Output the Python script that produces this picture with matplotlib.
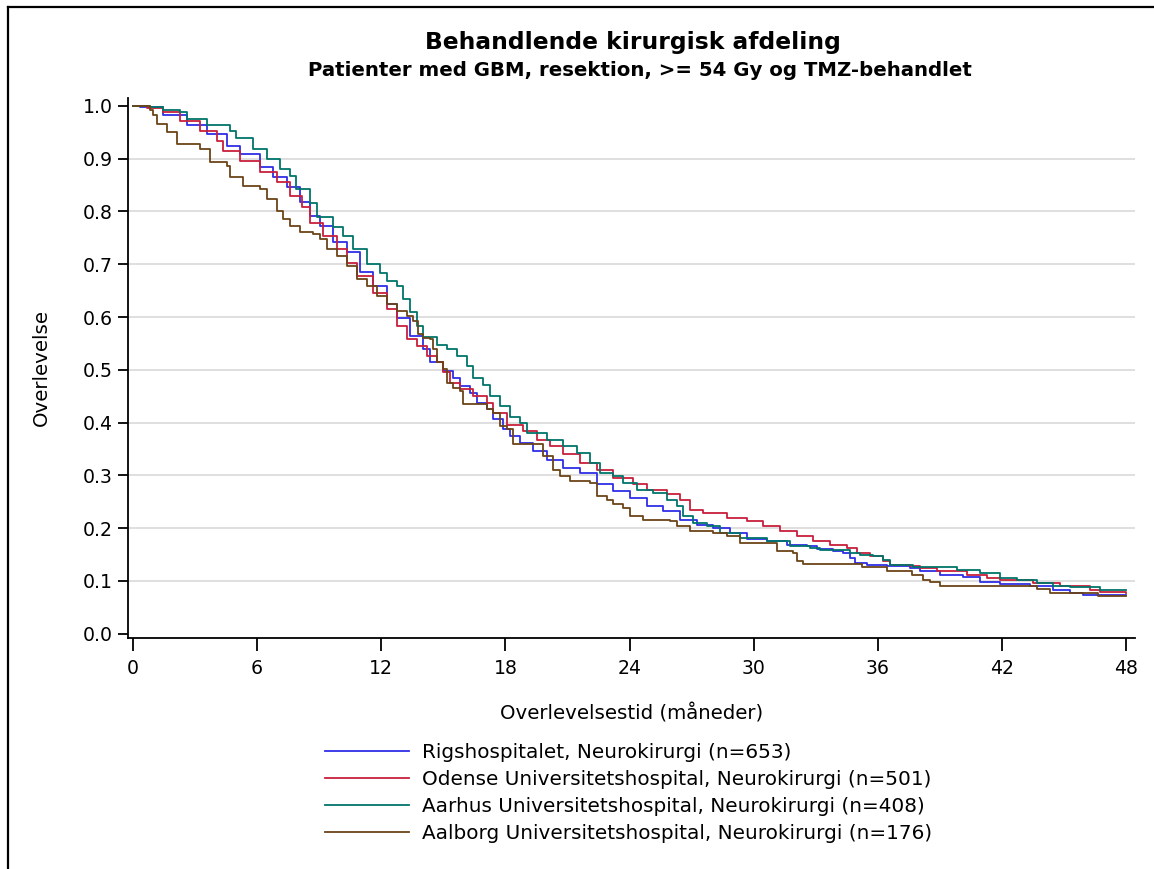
import matplotlib
matplotlib.use("Agg")
import matplotlib.pyplot as plt
from matplotlib.lines import Line2D

plt.rcParams['font.family'] = ['DejaVu Sans']

# Kaplan-Meier estimates (months, survival) per department
rigs_t = [0, 0.34, 1.45, 2.6, 3.56, 4.53, 5.17, 6.14, 6.77, 7.43, 8.07, 8.55, 9.04, 9.67,
          10.33, 10.97, 11.6, 12.26, 12.74, 13.39, 14.03, 14.35, 15.0, 15.48, 15.8, 16.29,
          16.61, 17.1, 17.41, 17.9, 18.22, 18.7, 19.35, 20.0, 20.8, 21.6, 22.41, 23.21,
          24.02, 24.83, 25.63, 26.44, 27.25, 28.05, 28.85, 29.66, 30.63, 31.59, 32.56,
          33.04, 33.85, 34.33, 34.66, 34.9, 35.46, 36.42, 37.55, 38.04, 39.0, 40.13, 40.94,
          41.9, 43.35, 44.48, 45.29, 45.93, 46.58, 48]
rigs_s = [1.0, 0.998, 0.982, 0.963, 0.947, 0.925, 0.909, 0.884, 0.865, 0.846, 0.818, 0.792,
          0.773, 0.742, 0.723, 0.685, 0.659, 0.625, 0.598, 0.564, 0.539, 0.514, 0.498,
          0.485, 0.469, 0.457, 0.438, 0.425, 0.406, 0.387, 0.374, 0.362, 0.346, 0.33,
          0.314, 0.305, 0.283, 0.27, 0.257, 0.242, 0.232, 0.216, 0.207, 0.2, 0.191, 0.18,
          0.175, 0.169, 0.166, 0.161, 0.156, 0.153, 0.144, 0.134, 0.131, 0.129, 0.125,
          0.118, 0.112, 0.108, 0.099, 0.095, 0.091, 0.083, 0.077, 0.074, 0.073, 0.073]

odense_t = [0, 0.66, 1.47, 2.27, 3.24, 4.05, 4.37, 5.17, 6.14, 6.95, 7.59, 8.15, 8.55, 9.2,
            9.85, 10.33, 10.81, 11.62, 12.26, 12.74, 13.23, 13.71, 14.19, 14.68, 15.0,
            15.32, 15.8, 16.45, 17.1, 17.41, 18.06, 18.87, 19.51, 20.15, 20.8, 21.6, 22.41,
            23.21, 24.18, 24.83, 25.79, 26.44, 26.92, 27.56, 28.69, 29.66, 30.46, 31.27,
            32.08, 32.88, 33.69, 34.49, 34.98, 35.62, 36.26, 36.59, 37.55, 38.04, 38.84,
            40.29, 41.26, 41.9, 43.51, 44.8, 46.25, 46.74, 48]
odense_s = [1.0, 0.996, 0.988, 0.972, 0.953, 0.934, 0.915, 0.896, 0.874, 0.855, 0.83, 0.808,
            0.779, 0.754, 0.729, 0.703, 0.678, 0.646, 0.615, 0.583, 0.558, 0.545, 0.526,
            0.514, 0.495, 0.476, 0.463, 0.45, 0.438, 0.419, 0.395, 0.384, 0.368, 0.355,
            0.34, 0.324, 0.311, 0.295, 0.283, 0.273, 0.264, 0.254, 0.235, 0.229, 0.219,
            0.213, 0.204, 0.194, 0.185, 0.175, 0.169, 0.163, 0.153, 0.147, 0.137, 0.131,
            0.128, 0.125, 0.118, 0.112, 0.106, 0.101, 0.096, 0.09, 0.083, 0.079, 0.077]

aarhus_t = [0, 0.82, 1.45, 2.27, 2.6, 3.56, 4.69, 5.0, 5.8, 6.46, 7.1, 7.59, 7.9, 8.55,
            8.88, 9.67, 10.15, 10.64, 11.3, 11.94, 12.26, 12.74, 13.06, 13.39, 13.71,
            14.03, 14.68, 15.16, 15.64, 16.13, 16.45, 16.93, 17.25, 17.74, 18.22, 18.7,
            19.03, 20.0, 20.8, 21.44, 22.09, 22.57, 23.21, 23.7, 24.34, 25.15, 25.79,
            26.28, 26.6, 27.08, 27.73, 28.37, 29.34, 30.63, 31.75, 32.72, 33.2, 34.01,
            34.66, 35.14, 35.78, 36.26, 36.59, 37.7, 39.81, 40.94, 41.9, 42.71, 43.68,
            44.48, 45.29, 46.74, 48]
aarhus_s = [1.0, 0.998, 0.993, 0.989, 0.975, 0.964, 0.953, 0.939, 0.918, 0.899, 0.88, 0.867,
            0.843, 0.817, 0.789, 0.77, 0.754, 0.728, 0.7, 0.684, 0.668, 0.659, 0.634,
            0.609, 0.583, 0.563, 0.548, 0.539, 0.526, 0.507, 0.485, 0.472, 0.45, 0.431,
            0.41, 0.4, 0.381, 0.368, 0.355, 0.343, 0.324, 0.305, 0.298, 0.286, 0.273,
            0.267, 0.254, 0.242, 0.223, 0.21, 0.204, 0.191, 0.182, 0.175, 0.166, 0.163,
            0.159, 0.158, 0.153, 0.15, 0.147, 0.14, 0.131, 0.126, 0.121, 0.115, 0.106,
            0.101, 0.096, 0.091, 0.088, 0.083, 0.082]

aalborg_t = [0, 0.82, 0.98, 1.14, 1.63, 2.11, 3.24, 3.72, 4.53, 4.69, 5.33, 6.14, 6.46,
             6.95, 7.27, 7.59, 8.07, 8.71, 9.04, 9.36, 9.85, 10.33, 10.81, 11.3, 11.78,
             12.26, 12.74, 13.23, 13.55, 13.79, 14.03, 14.35, 14.52, 14.68, 15.0, 15.16,
             15.48, 15.8, 15.96, 16.61, 17.1, 17.41, 17.74, 18.06, 18.38, 19.83, 20.31,
             20.64, 21.12, 22.09, 22.41, 22.89, 23.21, 23.7, 24.02, 24.67, 25.96, 26.28,
             26.92, 28.05, 28.69, 29.34, 31.11, 31.91, 32.07, 32.4, 35.22, 36.43, 37.63,
             38.2, 38.52, 39.0, 43.68, 44.32, 46.66, 48]
aalborg_s = [1.0, 0.993, 0.982, 0.966, 0.95, 0.928, 0.918, 0.893, 0.887, 0.865, 0.849,
             0.843, 0.824, 0.801, 0.786, 0.773, 0.762, 0.757, 0.748, 0.729, 0.716, 0.697,
             0.672, 0.659, 0.64, 0.624, 0.612, 0.602, 0.593, 0.567, 0.561, 0.558, 0.539,
             0.514, 0.501, 0.476, 0.466, 0.46, 0.436, 0.435, 0.425, 0.419, 0.393, 0.387,
             0.359, 0.336, 0.311, 0.298, 0.289, 0.286, 0.261, 0.254, 0.245, 0.239, 0.223,
             0.216, 0.213, 0.204, 0.194, 0.191, 0.185, 0.172, 0.156, 0.153, 0.137, 0.133,
             0.127, 0.118, 0.112, 0.102, 0.099, 0.091, 0.085, 0.077, 0.071, 0.071]

labels = ["Rigshospitalet, Neurokirurgi (n=653)",
          "Odense Universitetshospital, Neurokirurgi (n=501)",
          "Aarhus Universitetshospital, Neurokirurgi (n=408)",
          "Aalborg Universitetshospital, Neurokirurgi (n=176)"]
colors = ['#2e2ee6', '#c8203c', '#00756a', '#6b4418']
curves = [(rigs_t, rigs_s), (odense_t, odense_s), (aarhus_t, aarhus_s),
          (aalborg_t, aalborg_s)]

W, H = 1154, 869
fig = plt.figure(figsize=(W / 100, H / 100), dpi=100)
ax = fig.add_axes([128 / W, 1 - 638 / H, (1135 - 128) / W, (638 - 98) / H])

for (t, s), c, lab in zip(curves, colors, labels):
    ax.plot(t, s, drawstyle='steps-post', color=c, lw=1.3, label=lab, zorder=3)

ax.set_xlim(-0.24, 48.43)
ax.set_ylim(-0.008, 1.015)
ax.set_xticks(range(0, 49, 6))
ax.set_yticks([i / 10 for i in range(11)])
ax.set_yticklabels([f"{i / 10:.1f}" for i in range(11)])
for yv in [i / 10 for i in range(1, 10)]:
    ax.axhline(yv, color='#dcdcdc', lw=1.3, zorder=1)

for side in ['top', 'right']:
    ax.spines[side].set_visible(False)
for side in ['left', 'bottom']:
    ax.spines[side].set_linewidth(1.3)
ax.tick_params(axis='x', direction='out', length=9, width=1.3, labelsize=13.6, pad=6)
ax.tick_params(axis='y', direction='out', length=7, width=1.3, labelsize=13.6, pad=4)

ax.set_xlabel("Overlevelsestid (måneder)", fontsize=14.2, labelpad=18.5)
ax.set_ylabel("Overlevelse", fontsize=14.2, labelpad=23)

fig.text(633 / W, 1 - 42 / H, "Behandlende kirurgisk afdeling", ha='center', va='center',
         fontsize=16.8, fontweight='bold')
fig.text(640 / W, 1 - 70 / H, "Patienter med GBM, resektion, >= 54 Gy og TMZ-behandlet",
         ha='center', va='center', fontsize=14.2, fontweight='bold')

handles = [Line2D([], [], color=c, lw=1.3) for c in colors]
fig.legend(handles, labels, loc='upper left', bbox_to_anchor=(325 / W, 1 - 743 / H),
           frameon=False, fontsize=14.4, handlelength=4.2, handletextpad=0.65,
           labelspacing=0.4, borderpad=0, borderaxespad=0)

# frame edges of the graph region
fig.add_artist(Line2D([8 / W, 1], [1 - 7 / H, 1 - 7 / H], color='black', lw=1.6,
                      transform=fig.transFigure))
fig.add_artist(Line2D([8 / W, 8 / W], [0, 1 - 7 / H], color='black', lw=1.6,
                      transform=fig.transFigure))

fig.savefig("out.png", dpi=100, facecolor='white')
